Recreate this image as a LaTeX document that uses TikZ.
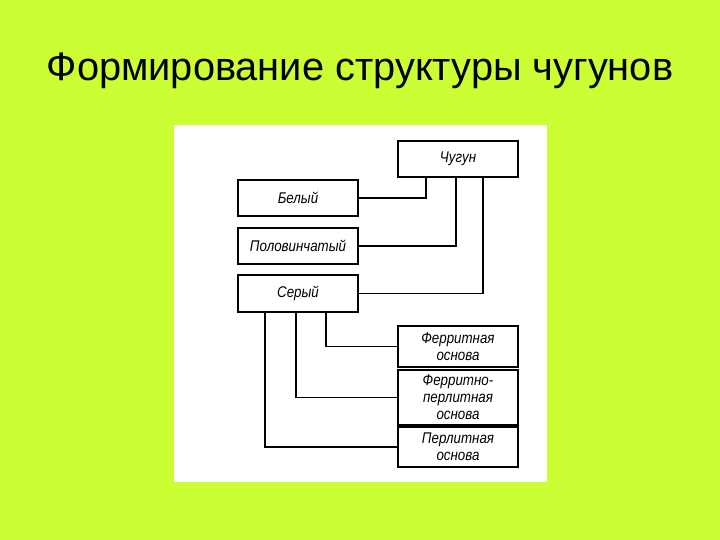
\documentclass[tikz,border=0pt]{standalone}
\usepackage{fontspec}
\setmainfont{Liberation Sans}
\newfontfamily\boxfont[FakeStretch=0.86]{Liberation Sans}
\definecolor{bg}{HTML}{CCFF33}
\tikzset{
  box/.style={draw=black, line width=1.8pt, fill=white, minimum width=120pt, inner sep=0pt, align=center,
    font=\boxfont\itshape\fontsize{15.5}{17}\selectfont},
  conn/.style={draw=black, line width=1.8pt}
}
\begin{document}
\begin{tikzpicture}[x=1pt,y=-1pt]
\useasboundingbox (0,0) rectangle (720,540);
\fill[bg] (0,0) rectangle (720,540);
\node[font=\fontsize{39.8}{44}\selectfont, anchor=base] (title) at (360,81) {Формирование структуры чугунов};
\fill[white] (174,125) rectangle (547,482);
\node[box, minimum height=36pt] (chugun) at (458,159) {Чугун};
\node[box, minimum height=36pt] (belyi) at (298,198) {Белый};
\node[box, minimum height=36pt] (polov) at (298,246) {Половинчатый};
\node[box, minimum height=37pt] (seryi) at (298,293.5) {Серый};
\node[box, minimum height=41.5pt] (ferr) at (458,346.5) {Ферритная\\основа};
\node[box, minimum height=55pt] (ferrperl) at (458,397.5) {Ферритно-\\перлитная\\основа};
\node[box, minimum height=40.5pt] (perl) at (458,447) {Перлитная\\основа};
\draw[conn] ([xshift=-32pt]chugun.south) |- (belyi.east);
\draw[conn] ([xshift=-2pt]chugun.south) |- (polov.east);
\draw[conn] ([xshift=25pt]chugun.south) |- (seryi.east);
\draw[conn] ([xshift=28pt]seryi.south) |- (ferr.west);
\draw[conn] ([xshift=-2pt]seryi.south) |- (ferrperl.west);
\draw[conn] ([xshift=-33pt]seryi.south) |- (perl.west);
\end{tikzpicture}
\end{document}
